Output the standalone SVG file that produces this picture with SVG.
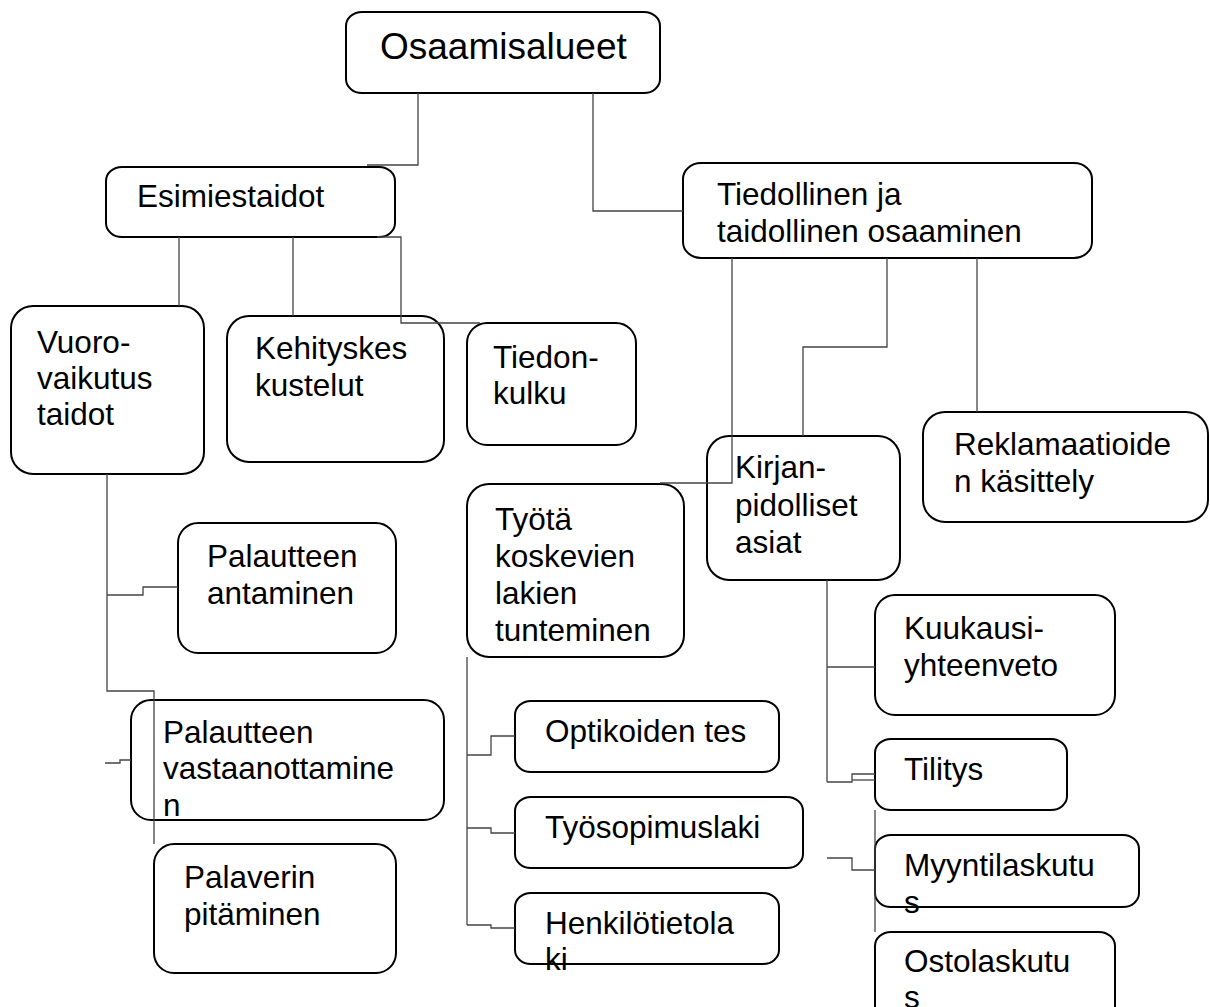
<svg xmlns="http://www.w3.org/2000/svg" width="1210" height="1007" viewBox="0 0 1210 1007">
<style>
.box{fill:#fff;stroke:#000;stroke-width:2}
.t{font-family:"Liberation Sans",Arial,sans-serif;font-size:31.5px;fill:#000}
.big{font-size:37px}
.c{fill:none;stroke:#444;stroke-width:1.3}
</style>
<rect width="1210" height="1007" fill="#fff"/>
<g id="nodes">
<g id="n-osaamisalueet"><rect class="box" x="346" y="12" width="314" height="81" rx="16" ry="14"/><text class="t big" x="380" y="59">Osaamisalueet</text></g>
<g id="n-esimiestaidot"><rect class="box" x="106" y="167" width="289" height="70" rx="16" ry="14"/><text class="t" x="137" y="207">Esimiestaidot</text></g>
<g id="n-tiedollinen"><rect class="box" x="683" y="163" width="409" height="95" rx="18" ry="16"/><text class="t" x="717" y="205">Tiedollinen ja</text><text class="t" x="717" y="242">taidollinen osaaminen</text></g>
<g id="n-vuoro"><rect class="box" x="11" y="306" width="193" height="168" rx="22" ry="22"/><text class="t" x="37" y="353">Vuoro-</text><text class="t" x="37" y="389">vaikutus</text><text class="t" x="37" y="425">taidot</text></g>
<g id="n-kehitys"><rect class="box" x="227" y="316" width="217" height="146" rx="22" ry="22"/><text class="t" x="255" y="359">Kehityskes</text><text class="t" x="255" y="396">kustelut</text></g>
<g id="n-tiedon"><rect class="box" x="467" y="323" width="169" height="122" rx="20" ry="20"/><text class="t" x="493" y="368">Tiedon-</text><text class="t" x="493" y="404">kulku</text></g>
<g id="n-reklamaatio"><rect class="box" x="923" y="412" width="285" height="110" rx="22" ry="22"/><text class="t" x="954" y="455">Reklamaatioide</text><text class="t" x="954" y="492">n käsittely</text></g>
<g id="n-kirjan"><rect class="box" x="707" y="436" width="193" height="144" rx="22" ry="22"/><text class="t" x="735" y="478">Kirjan-</text><text class="t" x="735" y="516">pidolliset</text><text class="t" x="735" y="553">asiat</text></g>
<g id="n-tyota"><rect class="box" x="467" y="484" width="217" height="173" rx="22" ry="22"/><text class="t" x="495" y="530">Työtä</text><text class="t" x="495" y="567">koskevien</text><text class="t" x="495" y="604">lakien</text><text class="t" x="495" y="641">tunteminen</text></g>
<g id="n-palaute-ant"><rect class="box" x="178" y="523" width="218" height="130" rx="20" ry="20"/><text class="t" x="207" y="567">Palautteen</text><text class="t" x="207" y="604">antaminen</text></g>
<g id="n-palaute-vast"><rect class="box" x="131" y="700" width="313" height="120" rx="20" ry="20"/><text class="t" x="163" y="743">Palautteen</text><text class="t" x="163" y="779">vastaanottamine</text><text class="t" x="163" y="816">n</text></g>
<g id="n-palaveri"><rect class="box" x="154" y="844" width="242" height="129" rx="20" ry="20"/><text class="t" x="184" y="888">Palaverin</text><text class="t" x="184" y="925">pitäminen</text></g>
<g id="n-optikoiden"><rect class="box" x="515" y="701" width="264" height="71" rx="16" ry="14"/><text class="t" x="545" y="742">Optikoiden tes</text></g>
<g id="n-tyosopimus"><rect class="box" x="515" y="797" width="288" height="71" rx="16" ry="14"/><text class="t" x="545" y="838">Työsopimuslaki</text></g>
<g id="n-henkilo"><rect class="box" x="515" y="893" width="264" height="71" rx="16" ry="14"/><text class="t" x="545" y="934">Henkilötietola</text><text class="t" x="545" y="970">ki</text></g>
<g id="n-kuukausi"><rect class="box" x="875" y="595" width="240" height="120" rx="20" ry="20"/><text class="t" x="904" y="639">Kuukausi-</text><text class="t" x="904" y="676">yhteenveto</text></g>
<g id="n-tilitys"><rect class="box" x="875" y="739" width="192" height="71" rx="16" ry="14"/><text class="t" x="904" y="780">Tilitys</text></g>
<g id="n-myynti"><rect class="box" x="875" y="835" width="264" height="72" rx="16" ry="14"/><text class="t" x="904" y="876">Myyntilaskutu</text><text class="t" x="904" y="913">s</text></g>
<g id="n-osto"><rect class="box" x="875" y="932" width="240" height="90" rx="16" ry="14"/><text class="t" x="904" y="972">Ostolaskutu</text><text class="t" x="904" y="1008">s</text></g>
</g>
<g id="connectors">
<path class="c" d="M418,93 V165 H367"/>
<path class="c" d="M593,93 V211 H683"/>
<path class="c" d="M179,237 V306"/>
<path class="c" d="M293,237 V316"/>
<path class="c" d="M377,237 H401 V323 H480"/>
<path class="c" d="M732,258 V483 H660"/>
<path class="c" d="M887,258 V347 H803 V436"/>
<path class="c" d="M977,258 V412"/>
<path class="c" d="M107,474 V691 H154 V844"/>
<path class="c" d="M107,595 H143 V587 H178"/>
<path class="c" d="M105,763 H120 V760 H131"/>
<path class="c" d="M467,657 V925"/>
<path class="c" d="M467,755 H491 V736 H515"/>
<path class="c" d="M467,828 H491 V833 H515"/>
<path class="c" d="M467,925 H491 V928 H515"/>
<path class="c" d="M827,580 V782"/>
<path class="c" d="M827,667 H875"/>
<path class="c" d="M827,782 H852 V774 H875"/>
<path class="c" d="M852,780 H875"/>
<path class="c" d="M875,810 V932"/>
<path class="c" d="M827,858 H852 V870 H875"/>
</g>
</svg>
